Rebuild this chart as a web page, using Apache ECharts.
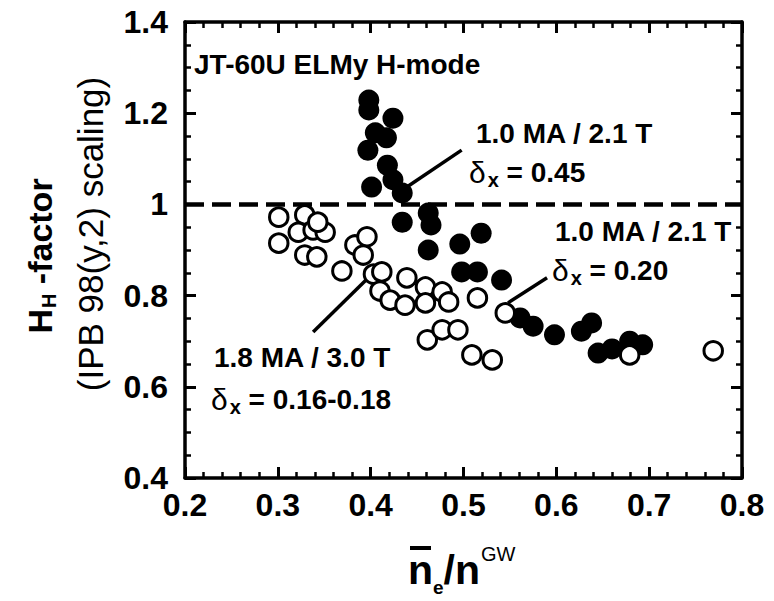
<!DOCTYPE html>
<html>
<head>
<meta charset="utf-8">
<script src="https://cdn.jsdelivr.net/npm/echarts@6/dist/echarts.min.js"></script>
<style>
  html, body { margin: 0; padding: 0; background: #fff; }
  #chart { width: 774px; height: 601px; }
</style>
</head>
<body>
<div id="chart"></div>
<script>
// Axis ranges and tick labels
const xTickLabels = ['0.2', '0.3', '0.4', '0.5', '0.6', '0.7', '0.8'];
const yTickLabels = ['0.4', '0.6', '0.8', '1', '1.2', '1.4'];

// 1.0 MA / 2.1 T, delta_x = 0.45 (filled circles)
const highDeltaDensity = [0.398, 0.398, 0.424, 0.405, 0.417, 0.397, 0.418, 0.401, 0.424, 0.434, 0.434, 0.462, 0.465, 0.462];
const highDeltaHH      = [1.229, 1.207, 1.189, 1.157, 1.146, 1.119, 1.086, 1.038, 1.054, 1.025, 0.961, 0.981, 0.955, 0.900];

// 1.0 MA / 2.1 T, delta_x = 0.20 (filled circles)
const lowDeltaDensity = [0.496, 0.519, 0.498, 0.515, 0.541, 0.561, 0.575, 0.598, 0.627, 0.638, 0.645, 0.660, 0.679, 0.693];
const lowDeltaHH      = [0.913, 0.937, 0.852, 0.852, 0.834, 0.751, 0.733, 0.714, 0.722, 0.740, 0.674, 0.683, 0.700, 0.692];

// 1.8 MA / 3.0 T, delta_x = 0.16-0.18 (open circles)
const highIpDensity = [0.301, 0.329, 0.322, 0.338, 0.351, 0.343, 0.301, 0.329, 0.342, 0.369, 0.383, 0.396, 0.392, 0.403, 0.412, 0.410,
                       0.421, 0.439, 0.437, 0.459, 0.459, 0.477, 0.484, 0.515, 0.545, 0.461, 0.477, 0.494, 0.509, 0.531, 0.679, 0.769];
const highIpHH      = [0.972, 0.977, 0.939, 0.944, 0.939, 0.961, 0.915, 0.889, 0.885, 0.854, 0.911, 0.929, 0.889, 0.847, 0.852, 0.810,
                       0.790, 0.839, 0.779, 0.819, 0.784, 0.808, 0.786, 0.795, 0.762, 0.703, 0.725, 0.725, 0.670, 0.659, 0.670, 0.679];

// Reference level H = 1
const referenceHH = 1.0;

// Leader lines from the group labels to the data (data coordinates)
const leaderLines = [
  [[0.439, 1.038], [0.498, 1.119]],
  [[0.548, 0.784], [0.590, 0.839]],
  [[0.338, 0.720], [0.395, 0.834]]
];

const FONT = '"Liberation Sans", Arial, Helvetica, sans-serif';
const zip = (xs, ys) => xs.map((x, i) => [x, ys[i]]);

const chart = echarts.init(document.getElementById('chart'), null, { renderer: 'svg' });

function valueAxis(extra) {
  return Object.assign({
    type: 'value',
    axisLine: { show: true, onZero: false, lineStyle: { color: '#000', width: 3.5 } },
    axisTick: { show: true, inside: true, length: 11, lineStyle: { color: '#000', width: 3 } },
    splitLine: { show: false },
    minorSplitLine: { show: false }
  }, extra);
}

const tickLabel = {
  color: '#000', fontFamily: FONT, fontWeight: 'bold', fontSize: 32
};

chart.setOption({
  animation: false,
  backgroundColor: '#fff',
  grid: { left: 185, right: 32, top: 22, bottom: 123, containLabel: false },
  xAxis: [
    valueAxis({
      position: 'bottom', min: 0.2, max: 0.8, interval: 0.1,
      minorTick: { show: true, splitNumber: 5, length: 6, lineStyle: { color: '#000', width: 2.5 } },
      axisLabel: Object.assign({ margin: 11, formatter: (v) => xTickLabels[Math.round((v - 0.2) * 10)] }, tickLabel)
    }),
    valueAxis({
      position: 'top', min: 0.2, max: 0.8, interval: 0.1,
      minorTick: { show: true, splitNumber: 5, length: 6, lineStyle: { color: '#000', width: 2.5 } },
      axisLabel: { show: false }
    })
  ],
  yAxis: [
    valueAxis({
      position: 'left', min: 0.4, max: 1.4, interval: 0.2,
      minorTick: { show: true, splitNumber: 4, length: 6, lineStyle: { color: '#000', width: 2.5 } },
      axisLabel: Object.assign({ margin: 17, formatter: (v) => yTickLabels[Math.round((v - 0.4) * 5)] }, tickLabel)
    }),
    valueAxis({
      position: 'right', min: 0.4, max: 1.4, interval: 0.2,
      minorTick: { show: true, splitNumber: 4, length: 6, lineStyle: { color: '#000', width: 2.5 } },
      axisLabel: { show: false }
    })
  ],
  series: [
    {
      name: '1.0 MA / 2.1 T, δx = 0.45',
      type: 'scatter', xAxisIndex: 0, yAxisIndex: 0,
      symbol: 'circle', symbolSize: 21,
      itemStyle: { color: '#000', opacity: 1 },
      data: zip(highDeltaDensity, highDeltaHH),
      markLine: {
        silent: true, symbol: 'none', label: { show: false },
        lineStyle: { color: '#000', width: 4.5, type: [19, 8] },
        data: [{ yAxis: referenceHH }]
      },
      z: 2
    },
    {
      name: '1.0 MA / 2.1 T, δx = 0.20',
      type: 'scatter', xAxisIndex: 0, yAxisIndex: 0,
      symbol: 'circle', symbolSize: 21,
      itemStyle: { color: '#000', opacity: 1 },
      data: zip(lowDeltaDensity, lowDeltaHH),
      z: 2
    },
    {
      name: '1.8 MA / 3.0 T, δx = 0.16-0.18',
      type: 'scatter', xAxisIndex: 0, yAxisIndex: 0,
      symbol: 'circle', symbolSize: 18.5,
      itemStyle: { color: '#fff', borderColor: '#000', borderWidth: 3, opacity: 1 },
      data: zip(highIpDensity, highIpHH),
      z: 3
    }
  ]
});

// Text helpers
function label(x, y, text, size, extra) {
  return {
    type: 'text', x: x, y: y, z: 10,
    style: Object.assign({
      text: text, fill: '#000', fontFamily: FONT, fontWeight: 'bold', fontSize: size,
      align: 'left', verticalAlign: 'middle'
    }, extra || {})
  };
}

function deltaLabel(x, y, value, size) {
  return {
    type: 'text', x: x, y: y, z: 10,
    style: {
      text: '{d|δ}{s|x}{t| = ' + value + '}',
      fill: '#000', align: 'left', verticalAlign: 'middle',
      rich: {
        d: { fontFamily: FONT, fontSize: size + 2, fontWeight: 'normal', fill: '#000' },
        s: { fontFamily: FONT, fontSize: Math.round(size * 0.72), fontWeight: 'bold', fill: '#000', padding: [16, 0, 0, 2] },
        t: { fontFamily: FONT, fontSize: size, fontWeight: 'bold', fill: '#000' }
      }
    }
  };
}

const toPx = (p) => chart.convertToPixel({ xAxisIndex: 0, yAxisIndex: 0 }, p);

const graphics = [];

leaderLines.forEach((seg) => {
  const a = toPx(seg[0]);
  const b = toPx(seg[1]);
  graphics.push({
    type: 'line', z: 9,
    shape: { x1: a[0], y1: a[1], x2: b[0], y2: b[1] },
    style: { stroke: '#000', lineWidth: 3.5 }
  });
});

graphics.push(label(194, 64, 'JT-60U ELMy H-mode', 28));
graphics.push(label(476, 133, '1.0 MA / 2.1 T', 28));
graphics.push(deltaLabel(469, 172, '0.45', 28));
graphics.push(label(555, 231, '1.0 MA / 2.1 T', 28));
graphics.push(deltaLabel(552, 270, '0.20', 28));
graphics.push(label(214, 357, '1.8 MA / 3.0 T', 28));
graphics.push(deltaLabel(211, 399, '0.16-0.18', 28));

// Y axis title (two lines, rotated)
graphics.push({
  type: 'text', x: 40, y: 256, rotation: Math.PI / 2, z: 10,
  style: {
    text: '{b|H}{s|H}{b| -factor}',
    fill: '#000', align: 'center', verticalAlign: 'middle',
    rich: {
      b: { fontFamily: FONT, fontSize: 34, fontWeight: 'bold', fill: '#000' },
      s: { fontFamily: FONT, fontSize: 20, fontWeight: 'bold', fill: '#000', padding: [18, 0, 0, 1] }
    }
  }
});
graphics.push({
  type: 'text', x: 90, y: 234, rotation: Math.PI / 2, z: 10,
  style: {
    text: '(IPB 98(y,2) scaling)',
    fill: '#000', align: 'center', verticalAlign: 'middle',
    fontFamily: FONT, fontSize: 35, fontWeight: 'normal'
  }
});

// X axis title: n-bar_e / n^GW as one rich text, overbar drawn above the first n
graphics.push({
  type: 'text', x: 408, y: 570, z: 10,
  style: {
    text: '{n|n}{e|e}{t|/n}{g|GW}',
    fill: '#000', align: 'left', verticalAlign: 'middle',
    rich: {
      n: { fontFamily: FONT, fontSize: 41, fontWeight: 'bold', fill: '#000' },
      e: { fontFamily: FONT, fontSize: 19, fontWeight: 'bold', fill: '#000', padding: [34, 0, 0, 0] },
      t: { fontFamily: FONT, fontSize: 41, fontWeight: 'bold', fill: '#000' },
      g: { fontFamily: FONT, fontSize: 20, fontWeight: 'normal', fill: '#000', padding: [0, 0, 32, 1] }
    }
  }
});
graphics.push({ type: 'rect', z: 10, shape: { x: 410, y: 546, width: 21, height: 4 }, style: { fill: '#000' } });

chart.setOption({ graphic: graphics });
</script>
</body>
</html>
